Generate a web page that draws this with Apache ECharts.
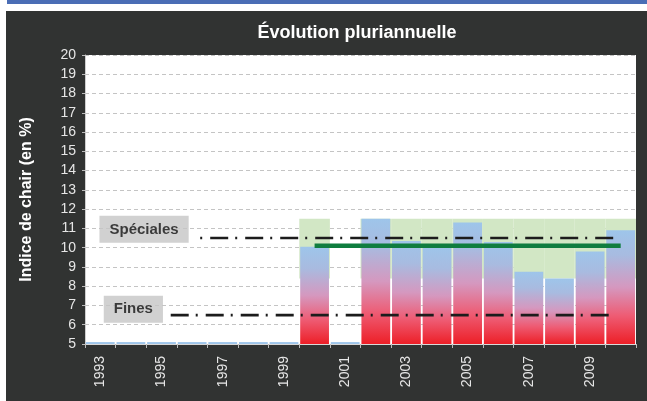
<!DOCTYPE html>
<html><head><meta charset="utf-8">
<script src="https://cdn.jsdelivr.net/npm/echarts@6/dist/echarts.min.js"></script>
<style>html,body{margin:0;padding:0;background:#fff}#c{width:647px;height:401px}</style>
</head><body><div id="c"></div>
<script>
// ---- data ----
const years = ['1993','1994','1995','1996','1997','1998','1999','2000','2001','2002','2003','2004','2005','2006','2007','2008','2009','2010'];
const indiceValues = [5.1,5.1,5.1,5.1,5.1,5.1,5.1,10.05,5.1,11.5,10.35,10.0,11.3,10.3,8.75,8.4,9.8,10.9];
const bandLow  = [null,null,null,null,null,null,null,8.4,null,8.4,8.4,8.4,8.4,8.4,8.4,8.4,8.4,8.4];
const bandHigh = [null,null,null,null,null,null,null,11.5,null,11.5,11.5,11.5,11.5,11.5,11.5,11.5,11.5,11.5];
const averageLine = [null,null,null,null,null,null,null,10.1,10.1,10.1,10.1,10.1,10.1,10.1,10.1,10.1,10.1,10.1];
const specialesLevel = 10.5;
const finesLevel = 6.5;
const specialesSpan = [3.6, 17.3];
const finesSpan = [2.8, 17.3];
const labelBoxes = [{name:'Spéciales', x:1.93, y:10.95}, {name:'Fines', x:1.58, y:6.8}];
const yMin = 5, yMax = 20, yStep = 1;

// ---- chart ----
const chart = echarts.init(document.getElementById('c'));
const grad = new echarts.graphic.LinearGradient(0,0,0,1,[
  {offset:0,color:'#9ec5ea'},{offset:0.22,color:'#a8bbe0'},{offset:0.5,color:'#d598bf'},
  {offset:0.75,color:'#ee5c74'},{offset:1,color:'#ed1f27'}]);
const barData = indiceValues.map(v => v <= yMin + 0.2 ? {value:v, itemStyle:{color:'#9ec5ea'}} : {value:v});
const bandHeight = bandHigh.map((h,i) => h == null ? null : +(h - bandLow[i]).toFixed(2));
const dashPat = [18,7,2,8];
const txtColor = '#e6e6e6';

chart.setOption({
  animation:false,
  graphic:[
    {type:'rect', z:-100, shape:{x:7,y:0,width:640,height:4}, style:{fill:'#4a6db5'}},
    {type:'rect', z:-100, shape:{x:6,y:11,width:641,height:390}, style:{fill:'#313332'}}
  ],
  title:{text:'Évolution pluriannuelle', left:352, top:19, textAlign:'center',
    textStyle:{color:'#ffffff', fontFamily:'Liberation Sans, Arial', fontWeight:'bold', fontSize:18}},
  grid:{left:85, right:11, top:55, bottom:57, show:true, backgroundColor:'#ffffff', borderWidth:0, containLabel:false},
  xAxis:[
    {type:'category', data:years, boundaryGap:true,
      axisLine:{show:true, lineStyle:{color:'#d8d8d8', width:1}},
      axisTick:{show:true, interval:0, length:4, lineStyle:{color:'#bbbbbb'}},
      axisLabel:{interval:1, rotate:90, margin:12, color:txtColor, fontSize:14, fontFamily:'Liberation Sans, Arial'},
      splitLine:{show:false}},
    {type:'value', min:0, max:years.length, show:false},
    {type:'category', data:years, show:false, boundaryGap:true}
  ],
  yAxis:{type:'value', min:yMin, max:yMax, interval:yStep,
    name:'Indice de chair (en %)', nameLocation:'middle', nameGap:50, nameRotate:90,
    nameTextStyle:{color:'#ffffff', fontWeight:'bold', fontSize:16, fontFamily:'Liberation Sans, Arial'},
    axisLine:{show:true, lineStyle:{color:'#cfcfcf'}},
    axisTick:{show:true, length:3, lineStyle:{color:'#bbbbbb'}},
    axisLabel:{color:txtColor, fontSize:14, margin:9, fontFamily:'Liberation Sans, Arial'},
    splitLine:{show:true, lineStyle:{color:'#c4c4c4', type:[4,3], width:1}}},
  series:[
    {type:'bar', xAxisIndex:2, stack:'band', data:bandLow, barCategoryGap:'0%', itemStyle:{color:'rgba(0,0,0,0)'}, z:1, silent:true},
    {type:'bar', xAxisIndex:2, stack:'band', data:bandHeight, barCategoryGap:'0%', itemStyle:{color:'#d2e7c5'}, z:1, silent:true},
    {type:'bar', xAxisIndex:0, data:barData, barCategoryGap:'6%', itemStyle:{color:grad}, z:2},
    {type:'line', xAxisIndex:0, data:averageLine, showSymbol:false, symbol:'none', lineStyle:{color:'#0f7d3f', width:4.5}, z:4},
    {type:'line', xAxisIndex:1, data:[[specialesSpan[0],specialesLevel],[specialesSpan[1],specialesLevel]], symbol:'none',
      lineStyle:{color:'#1c1c1c', width:2.6, type:dashPat, dashOffset:20}, z:5},
    {type:'line', xAxisIndex:1, data:[[finesSpan[0],finesLevel],[finesSpan[1],finesLevel]], symbol:'none',
      lineStyle:{color:'#1c1c1c', width:2.6, type:dashPat}, z:5},
    {type:'scatter', xAxisIndex:1, symbolSize:0, z:6,
      data:labelBoxes.map(b => ({name:b.name, value:[b.x,b.y]})),
      label:{show:true, position:'inside', formatter:'{b}', color:'#141414', fontWeight:'bold', fontSize:15,
        fontFamily:'Liberation Sans, Arial', backgroundColor:'#c6c6c6', padding:[6,10,6,10]}}
  ]
});
</script></body></html>
